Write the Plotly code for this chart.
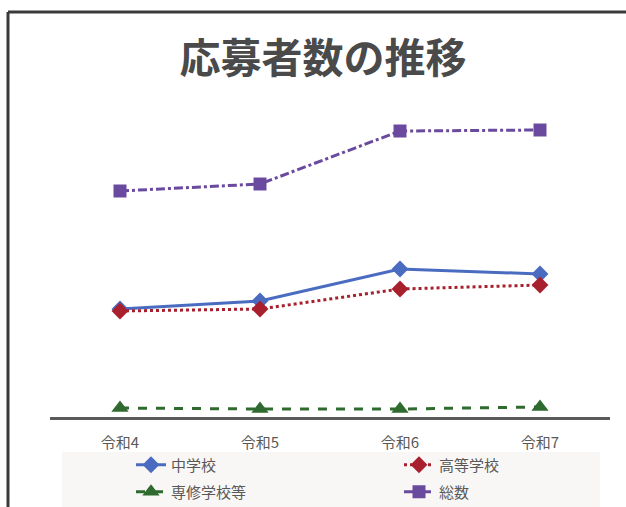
import plotly.graph_objects as go

categories = ["令和4", "令和5", "令和6", "令和7"]
chugakko = [108, 116, 148, 143]
koto = [106, 108, 128, 132]
senshu = [9, 8, 8, 10]
sosu = [226, 233, 286, 287]

W, H = 626, 507
ML, MR, MT, MB = 50, 16, 80, 90
PW, PH = W - ML - MR, H - MT - MB


def px(x):
    return (x - ML) / PW


def py(y):
    return (H - MB - y) / PH


FONT = "Noto Sans CJK JP"

fig = go.Figure()
fig.add_trace(go.Scatter(x=categories, y=chugakko, name="中学校", mode="lines+markers",
                         line=dict(color="#4a6cc0", width=3),
                         marker=dict(symbol="diamond", size=13, color="#4a6cc0"),
                         legend="legend"))
fig.add_trace(go.Scatter(x=categories, y=koto, name="高等学校", mode="lines+markers",
                         line=dict(color="#a8202e", width=3, dash="dot"),
                         marker=dict(symbol="diamond", size=13, color="#a8202e"),
                         legend="legend2"))
fig.add_trace(go.Scatter(x=categories, y=senshu, name="専修学校等", mode="lines+markers",
                         line=dict(color="#2f6a2f", width=3, dash="dash"),
                         marker=dict(symbol="triangle-up", size=15, color="#2f6a2f"),
                         legend="legend3"))
fig.add_trace(go.Scatter(x=categories, y=sosu, name="総数", mode="lines+markers",
                         line=dict(color="#6a4a9e", width=3, dash="dashdot"),
                         marker=dict(symbol="square", size=13, color="#6a4a9e"),
                         legend="legend4"))

legend_common = dict(orientation="h", xanchor="left", yanchor="middle",
                     bgcolor="rgba(0,0,0,0)",
                     font=dict(family=FONT, size=15, color="#595959"))

fig.update_layout(
    width=W, height=H,
    margin=dict(l=ML, r=MR, t=MT, b=MB, autoexpand=False),
    paper_bgcolor="white", plot_bgcolor="white",
    title=dict(text="<b>応募者数の推移</b>", x=323 / W, xanchor="center",
               y=1 - 59 / H, yanchor="middle",
               font=dict(family=FONT, size=41, color="#4a4a4a")),
    xaxis=dict(type="category", range=[-0.5, 3.5], showgrid=False, zeroline=False,
               showline=True, linecolor="#5a5a5a", linewidth=3,
               ticks="outside", ticklen=10, tickcolor="rgba(0,0,0,0)",
               tickfont=dict(family=FONT, size=15, color="#595959")),
    yaxis=dict(visible=False, range=[0, PH]),
    legend=dict(x=px(131), y=py(465), **legend_common),
    legend2=dict(x=px(399), y=py(465), **legend_common),
    legend3=dict(x=px(131), y=py(492), **legend_common),
    legend4=dict(x=px(399), y=py(492), **legend_common),
    shapes=[
        dict(type="rect", xref="paper", yref="paper", x0=px(62), x1=px(600),
             y0=py(507), y1=py(452), fillcolor="#f9f7f5", line=dict(width=0), layer="below"),
        dict(type="line", xref="paper", yref="paper", x0=px(8), x1=px(626),
             y0=py(12), y1=py(12), line=dict(color="#3a3a3a", width=3)),
        dict(type="line", xref="paper", yref="paper", x0=px(8), x1=px(8),
             y0=py(12), y1=py(507), line=dict(color="#3a3a3a", width=3)),
    ],
    showlegend=True,
)

fig.write_html("out.html")
